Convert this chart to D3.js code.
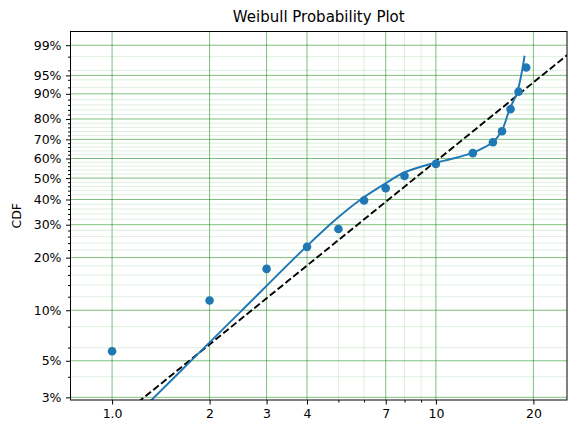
<!DOCTYPE html>
<html>
<head>
<meta charset="utf-8">
<script src="https://cdn.jsdelivr.net/npm/d3@7"></script>
<style>
  body { margin: 0; background: #fff; }
  svg { display: block; font-family: "DejaVu Sans", sans-serif; }
</style>
</head>
<body>
<div id="chart"></div>
<script>
// observed points (time, median rank CDF)
var pointX = [1, 2, 3, 4, 5, 6, 7, 8, 10, 13, 15, 16, 17, 18, 19];
var pointF = [0.057, 0.114, 0.173, 0.229, 0.285, 0.396, 0.451, 0.511, 0.572, 0.628, 0.685, 0.741, 0.843, 0.907, 0.965];

// fitted curve (blue)
var curveX = [1.25, 1.324, 1.761, 2.5, 3.972, 4.953, 5.83, 7.005, 7.96, 9.95, 11.07, 13.01, 14.96, 15.95, 16.89, 17.84, 18.79];
var curveF = [0.0258, 0.0289, 0.0504, 0.0985, 0.229, 0.3236, 0.398, 0.475, 0.527, 0.578, 0.596, 0.6307, 0.685, 0.741, 0.843, 0.907, 0.981];

// straight weibull fit (dashed) end points
var fitX = [1.20, 26.0];
var fitF = [0.0279, 0.9842];

var xMajor = [1, 2, 3, 4, 7, 10, 20];
var xMajorLabels = ["1.0", "2", "3", "4", "7", "10", "20"];
var xMinor = [5, 6, 8, 9];
var yMajor = [0.03, 0.05, 0.10, 0.20, 0.30, 0.40, 0.50, 0.60, 0.70, 0.80, 0.90, 0.95, 0.99];
var yMinor = [0.04, 0.06, 0.08, 0.12, 0.14, 0.16, 0.18, 0.22, 0.24, 0.26, 0.28,
              0.32, 0.34, 0.36, 0.38, 0.42, 0.44, 0.46, 0.48, 0.52, 0.54, 0.56, 0.58,
              0.62, 0.64, 0.66, 0.68, 0.72, 0.74, 0.76, 0.78, 0.82, 0.84, 0.86, 0.88,
              0.92, 0.94, 0.96, 0.98];

var W = 576, H = 434;
var margin = {top: 31.5, right: 9, bottom: 34, left: 70.5};
var width = W - margin.left - margin.right,
    height = H - margin.top - margin.bottom;

// weibull probability transform
function weib(F) { return Math.log(-Math.log(1 - F)); }

var x = d3.scaleLog()
    .domain([0.744, 25.4])
    .range([0, width]);

var yLin = d3.scaleLinear()
    .domain([weib(0.0289), weib(0.9963)])
    .range([height, 0]);

function y(F) { return yLin(weib(F)); }

var svg = d3.select("#chart").append("svg")
    .attr("width", W)
    .attr("height", H);

var g = svg.append("g")
    .attr("transform", "translate(" + margin.left + "," + margin.top + ")");

g.append("clipPath").attr("id", "clip")
  .append("rect").attr("width", width).attr("height", height);

// grid
var grid = g.append("g").attr("clip-path", "url(#clip)");
grid.selectAll(".xminor").data(xMinor).enter().append("line")
    .attr("x1", d => x(d)).attr("x2", d => x(d))
    .attr("y1", 0).attr("y2", height)
    .style("stroke", "green").style("stroke-opacity", 0.13).style("stroke-width", 1);
grid.selectAll(".yminor").data(yMinor).enter().append("line")
    .attr("x1", 0).attr("x2", width)
    .attr("y1", d => y(d)).attr("y2", d => y(d))
    .style("stroke", "green").style("stroke-opacity", 0.13).style("stroke-width", 1);
grid.selectAll(".xmajor").data(xMajor).enter().append("line")
    .attr("x1", d => x(d)).attr("x2", d => x(d))
    .attr("y1", 0).attr("y2", height)
    .style("stroke", "green").style("stroke-opacity", 0.5).style("stroke-width", 1);
grid.selectAll(".ymajor").data(yMajor).enter().append("line")
    .attr("x1", 0).attr("x2", width)
    .attr("y1", d => y(d)).attr("y2", d => y(d))
    .style("stroke", "green").style("stroke-opacity", 0.5).style("stroke-width", 1);

// axes
var xAxis = d3.axisBottom(x)
    .tickValues(xMajor)
    .tickFormat((d, i) => xMajorLabels[i])
    .tickSize(4.5).tickPadding(4.5);
var xAxisMinor = d3.axisBottom(x)
    .tickValues(xMinor).tickFormat("").tickSize(2.5);
var yAxis = d3.axisLeft(yLin)
    .tickValues(yMajor.map(weib))
    .tickFormat((d, i) => Math.round(yMajor[i] * 100) + "%")
    .tickSize(4.5).tickPadding(4.5);
var yAxisMinor = d3.axisLeft(yLin)
    .tickValues(yMinor.map(weib)).tickFormat("").tickSize(2.5);

g.append("g").attr("class", "axis").attr("transform", "translate(0," + height + ")").call(xAxis);
g.append("g").attr("class", "axis").attr("transform", "translate(0," + height + ")").call(xAxisMinor);
g.append("g").attr("class", "axis").call(yAxis);
g.append("g").attr("class", "axis").call(yAxisMinor);

g.selectAll(".axis .domain").remove();
g.selectAll(".axis text")
    .style("font-size", "12.5px")
    .style("font-family", "DejaVu Sans, sans-serif")
    .style("fill", "#000");
g.selectAll(".axis line").style("stroke", "#000").style("stroke-width", 1);

// data layer
var plot = g.append("g").attr("clip-path", "url(#clip)");

var line = d3.line()
    .x(d => x(d[0]))
    .y(d => y(d[1]));

plot.append("path")
    .datum(fitX.map((d, i) => [d, fitF[i]]))
    .attr("d", line)
    .style("fill", "none")
    .style("stroke", "#000")
    .style("stroke-width", 1.9)
    .style("stroke-dasharray", "7,3");

plot.append("path")
    .datum(curveX.map((d, i) => [d, curveF[i]]))
    .attr("d", line.curve(d3.curveCatmullRom.alpha(0.5)))
    .style("fill", "none")
    .style("stroke", "#1f77b4")
    .style("stroke-width", 1.9);

plot.selectAll(".pt")
    .data(pointX.map((d, i) => [d, pointF[i]]))
    .enter().append("circle")
    .attr("cx", d => x(d[0]))
    .attr("cy", d => y(d[1]))
    .attr("r", 4.3)
    .style("fill", "#1f77b4");

// frame
g.append("rect")
    .attr("width", width).attr("height", height)
    .style("fill", "none").style("stroke", "#000").style("stroke-width", 1);

// labels
svg.append("text")
    .attr("x", margin.left + width / 2)
    .attr("y", 22)
    .attr("text-anchor", "middle")
    .style("font-size", "15px")
    .text("Weibull Probability Plot");

svg.append("text")
    .attr("transform", "translate(21," + (margin.top + height / 2) + ") rotate(-90)")
    .attr("text-anchor", "middle")
    .style("font-size", "12.5px")
    .text("CDF");
</script>
</body>
</html>
